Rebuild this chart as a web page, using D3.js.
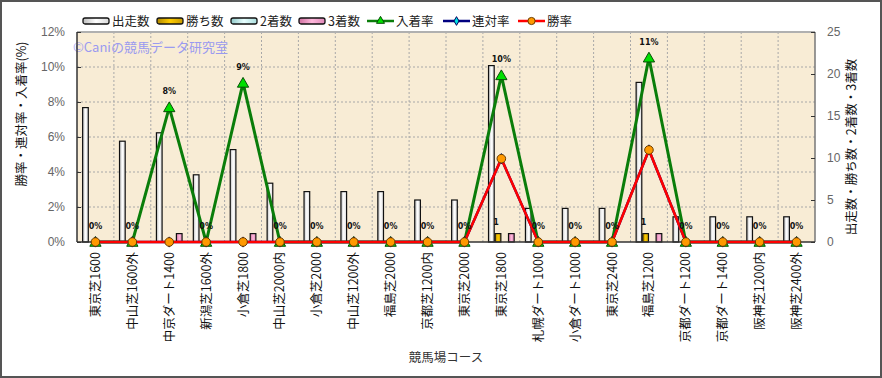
<!DOCTYPE html>
<html>
<head>
<meta charset="utf-8">
<script src="https://cdn.jsdelivr.net/npm/d3@7"></script>
<style>
  body { margin: 0; background: #fff; }
  svg { display: block; font-family: "Noto Sans CJK JP", sans-serif; }
</style>
</head>
<body>
<svg id="chart" width="882" height="378"></svg>
<script>
// courses on the x axis
const courses = ["東京芝1600", "中山芝1600外", "中京ダート1400", "新潟芝1600外", "小倉芝1800",
  "中山芝2000内", "小倉芝2000", "中山芝1200外", "福島芝2000", "京都芝1200内",
  "東京芝2000", "東京芝1800", "札幌ダート1000", "小倉ダート1000", "東京芝2400",
  "福島芝1200", "京都ダート1200", "京都ダート1400", "阪神芝1200内", "阪神芝2400外"];

// counts (right axis)
const starts  = [16, 12, 13, 8, 11, 7, 6, 6, 6, 5, 5, 21, 4, 4, 4, 19, 3, 3, 3, 3];
const wins    = [0, 0, 0, 0, 0, 0, 0, 0, 0, 0, 0, 1, 0, 0, 0, 1, 0, 0, 0, 0];
const seconds = [0, 0, 0, 0, 0, 0, 0, 0, 0, 0, 0, 0, 0, 0, 0, 0, 0, 0, 0, 0];
const thirds  = [0, 0, 1, 0, 1, 0, 0, 0, 0, 0, 0, 1, 0, 0, 0, 1, 0, 0, 0, 0];

// rates in % (left axis)
const placeRate = [0, 0, 7.69, 0, 9.09, 0, 0, 0, 0, 0, 0, 9.52, 0, 0, 0, 10.53, 0, 0, 0, 0];
const top2Rate  = [0, 0, 0, 0, 0, 0, 0, 0, 0, 0, 0, 4.76, 0, 0, 0, 5.26, 0, 0, 0, 0];
const winRate   = [0, 0, 0, 0, 0, 0, 0, 0, 0, 0, 0, 4.76, 0, 0, 0, 5.26, 0, 0, 0, 0];

const leftTicks = [0, 2, 4, 6, 8, 10, 12];
const rightTicks = [0, 5, 10, 15, 20, 25];

const svg = d3.select("#chart");
const plot = { left: 77, right: 815, top: 32, bottom: 242 };

const x = d3.scaleBand().domain(courses).range([plot.left, plot.right]);
const barKeys = ["starts", "wins", "seconds", "thirds"];
const x1 = d3.scaleBand().domain(barKeys).range([0, x.bandwidth()]).paddingOuter(0.77);
const yRate = d3.scaleLinear().domain([0, 12]).range([plot.bottom, plot.top]);
const yCount = d3.scaleLinear().domain([0, 25]).range([plot.bottom, plot.top]);

// gradients
const defs = svg.append("defs");
function grad(id, c1, c2, c3) {
  const g = defs.append("linearGradient").attr("id", id).attr("x1", "0").attr("x2", "1").attr("y1", "0").attr("y2", "0");
  g.append("stop").attr("offset", "0%").attr("stop-color", c1);
  g.append("stop").attr("offset", "50%").attr("stop-color", c2);
  g.append("stop").attr("offset", "100%").attr("stop-color", c3);
}
grad("gStarts", "#bdbdbd", "#ffffff", "#d8d8d8");
grad("gWins", "#b08800", "#ffcc00", "#c89a00");
grad("gSeconds", "#8fc8c8", "#e8ffff", "#a8dcdc");
grad("gThirds", "#d070a0", "#ffb8dc", "#e088b8");
const fills = { starts: "url(#gStarts)", wins: "url(#gWins)", seconds: "url(#gSeconds)", thirds: "url(#gThirds)" };

// outer frame
svg.append("rect").attr("x", 1).attr("y", 1).attr("width", 880).attr("height", 376)
  .attr("fill", "#fff").attr("stroke", "#555").attr("stroke-width", 2);

// plot background
svg.append("rect").attr("x", plot.left).attr("y", plot.top)
  .attr("width", plot.right - plot.left).attr("height", plot.bottom - plot.top)
  .attr("fill", "#f8ecd5");

// grid
svg.append("g").selectAll("line").data(leftTicks.slice(1, -1)).join("line")
  .attr("x1", plot.left).attr("x2", plot.right)
  .attr("y1", d => yRate(d)).attr("y2", d => yRate(d))
  .attr("stroke", "#a8a8a8").attr("stroke-dasharray", "2,2");
svg.append("g").selectAll("line").data(courses.slice(1)).join("line")
  .attr("x1", d => x(d)).attr("x2", d => x(d))
  .attr("y1", plot.top).attr("y2", plot.bottom)
  .attr("stroke", "#a8a8a8").attr("stroke-dasharray", "2,2");

// watermark
svg.append("text").attr("x", 73).attr("y", 52).attr("font-size", 13)
  .attr("fill", "#9a9af0").text("©Caniの競馬データ研究室");

// bars
const counts = { starts, wins, seconds, thirds };
const barG = svg.append("g");
courses.forEach((c, i) => {
  barKeys.forEach(k => {
    const v = counts[k][i];
    if (v <= 0) return;
    barG.append("rect")
      .attr("x", x(c) + x1(k) + 0.5).attr("y", yCount(v))
      .attr("width", x1.bandwidth() - 1).attr("height", yCount(0) - yCount(v))
      .attr("fill", fills[k]).attr("stroke", "#111").attr("stroke-width", 1.2);
  });
});

// plot border
svg.append("line").attr("x1", plot.left).attr("x2", plot.right).attr("y1", plot.top).attr("y2", plot.top)
  .attr("stroke", "#b0b0b0").attr("stroke-width", 2);
svg.append("line").attr("x1", plot.right).attr("x2", plot.right).attr("y1", plot.top).attr("y2", plot.bottom)
  .attr("stroke", "#777").attr("stroke-width", 1.5);
svg.append("line").attr("x1", plot.left).attr("x2", plot.left).attr("y1", plot.top).attr("y2", plot.bottom)
  .attr("stroke", "#333").attr("stroke-width", 1.5);
svg.append("line").attr("x1", plot.left).attr("x2", plot.right).attr("y1", plot.bottom).attr("y2", plot.bottom)
  .attr("stroke", "#333").attr("stroke-width", 1.5);

// axes
const leftAxis = svg.append("g").attr("transform", `translate(${plot.left},0)`)
  .call(d3.axisLeft(yRate).tickValues(leftTicks).tickFormat(d => d + "%").tickSize(-4).tickPadding(12));
const rightAxis = svg.append("g").attr("transform", `translate(${plot.right},0)`)
  .call(d3.axisRight(yCount).tickValues(rightTicks).tickSize(-4).tickPadding(12));
[leftAxis, rightAxis].forEach(a => {
  a.select(".domain").remove();
  a.selectAll("line").attr("stroke", "#333");
  a.selectAll("text").attr("font-family", "'Liberation Sans', Arial, sans-serif")
    .attr("font-size", 12).attr("fill", "#666");
});

// x labels
svg.append("g").selectAll("text").data(courses).join("text")
  .attr("transform", d => `translate(${x(d) + x.bandwidth() / 2},252) rotate(-90)`)
  .attr("text-anchor", "end").attr("dy", "0.36em")
  .attr("font-size", 12.5).attr("fill", "#111").text(d => d);

// axis titles
svg.append("text").attr("transform", "translate(21,114) rotate(-90)")
  .attr("text-anchor", "middle").attr("dy", "0.36em").attr("font-size", 12.5)
  .attr("fill", "#111").text("勝率・連対率・入着率(%)");
svg.append("text").attr("transform", "translate(851,147) rotate(-90)")
  .attr("text-anchor", "middle").attr("dy", "0.36em").attr("font-size", 12.5)
  .attr("fill", "#111").text("出走数・勝ち数・2着数・3着数");
svg.append("text").attr("x", 446).attr("y", 362).attr("text-anchor", "middle")
  .attr("font-size", 12.5).attr("fill", "#333").text("競馬場コース");

// lines
const cx = i => x(courses[i]) + x.bandwidth() / 2;
const line = d3.line().x((d, i) => cx(i)).y(d => yRate(d));
const tri = d3.symbol().type(d3.symbolTriangle).size(55);
const dia = d3.symbol().type(d3.symbolDiamond).size(30);

svg.append("path").datum(placeRate).attr("d", line)
  .attr("fill", "none").attr("stroke", "#0a7d0a").attr("stroke-width", 3);
svg.append("path").datum(top2Rate).attr("d", line)
  .attr("fill", "none").attr("stroke", "#000080").attr("stroke-width", 2.5);
svg.append("path").datum(winRate).attr("d", line)
  .attr("fill", "none").attr("stroke", "#ff0000").attr("stroke-width", 2.5);

svg.append("g").selectAll("path").data(placeRate).join("path")
  .attr("transform", (d, i) => `translate(${cx(i)},${yRate(d) + 1})`)
  .attr("d", tri).attr("fill", "#00e000").attr("stroke", "#064d06").attr("stroke-width", 1);
svg.append("g").selectAll("path").data(top2Rate).join("path")
  .attr("transform", (d, i) => `translate(${cx(i)},${yRate(d)})`)
  .attr("d", dia).attr("fill", "#00e0e0").attr("stroke", "#000060");
svg.append("g").selectAll("circle").data(winRate).join("circle")
  .attr("cx", (d, i) => cx(i)).attr("cy", d => yRate(d)).attr("r", 4.3)
  .attr("fill", "#ff9900").attr("stroke", "#6a3c00").attr("stroke-width", 1);

// data labels
svg.append("g").selectAll("text").data(placeRate).join("text")
  .attr("x", (d, i) => cx(i)).attr("y", d => yRate(d) - 13)
  .attr("text-anchor", "middle").attr("font-family", "'DejaVu Sans', sans-serif")
  .attr("font-size", 8).attr("font-weight", "bold").attr("fill", "#111")
  .text(d => d3.format(".0f")(d) + "%");
svg.append("g").selectAll("text").data(wins).join("text")
  .attr("x", (d, i) => x(courses[i]) + x1("wins") + x1.bandwidth() / 2 - 2)
  .attr("y", d => yCount(d) - 9)
  .attr("text-anchor", "middle").attr("font-family", "'DejaVu Sans', sans-serif")
  .attr("font-size", 8).attr("font-weight", "bold").attr("fill", "#111")
  .text(d => d > 0 ? d : "");

// legend
const legendItems = [
  { label: "出走数", type: "bar", fill: fills.starts, x: 83 },
  { label: "勝ち数", type: "bar", fill: fills.wins, x: 157 },
  { label: "2着数", type: "bar", fill: fills.seconds, x: 231 },
  { label: "3着数", type: "bar", fill: fills.thirds, x: 299 },
  { label: "入着率", type: "tri", color: "#0a7d0a", x: 367 },
  { label: "連対率", type: "dia", color: "#000080", x: 443 },
  { label: "勝率", type: "dot", color: "#ff0000", x: 518 }
];
const ly = 21;
const lg = svg.append("g");
legendItems.forEach(it => {
  const g = lg.append("g").attr("transform", `translate(${it.x},${ly})`);
  if (it.type === "bar") {
    g.append("rect").attr("x", 0).attr("y", -3).attr("width", 26).attr("height", 6).attr("rx", 2)
      .attr("fill", it.fill).attr("stroke", "#111").attr("stroke-width", 1.3);
  } else {
    g.append("line").attr("x1", 0).attr("x2", 27).attr("y1", 0).attr("y2", 0)
      .attr("stroke", it.color).attr("stroke-width", 2.5);
    if (it.type === "tri") g.append("path").attr("transform", "translate(13.5,0)")
      .attr("d", d3.symbol().type(d3.symbolTriangle).size(28)).attr("fill", "#00e000").attr("stroke", "#064d06");
    if (it.type === "dia") g.append("path").attr("transform", "translate(13.5,0)")
      .attr("d", d3.symbol().type(d3.symbolDiamond).size(22)).attr("fill", "#00e0e0").attr("stroke", "#000060");
    if (it.type === "dot") g.append("circle").attr("cx", 13.5).attr("r", 3.6)
      .attr("fill", "#ff9900").attr("stroke", "#6a3c00");
  }
  g.append("text").attr("x", 29).attr("dy", "0.36em").attr("font-size", 12.5)
    .attr("fill", "#222").text(it.label);
});
</script>
</body>
</html>
